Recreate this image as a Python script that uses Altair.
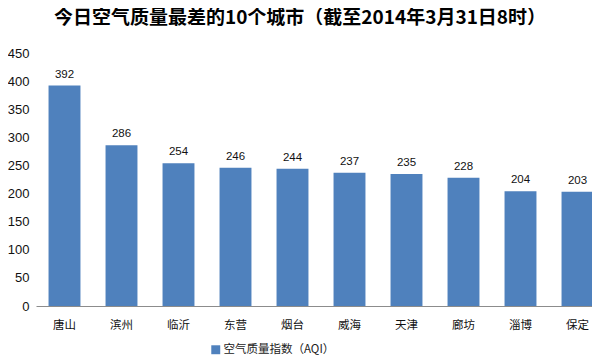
import altair as alt
import pandas as pd

cities = ["唐山", "滨州", "临沂", "东营", "烟台", "威海", "天津", "廊坊", "淄博", "保定"]
aqi = [392, 286, 254, 246, 244, 237, 235, 228, 204, 203]
series_name = "空气质量指数（AQI）"
y_ticks = [0, 50, 100, 150, 200, 250, 300, 350, 400, 450]

df = pd.DataFrame({"city": cities, "aqi": aqi, "series": [series_name] * len(cities)})

FONT = "Noto Sans CJK SC"

base = alt.Chart(df).encode(
    x=alt.X("city:N", sort=cities, title=None,
            scale=alt.Scale(range=[0, 570], paddingInner=0.44, paddingOuter=0.22),
            axis=alt.Axis(labelAngle=0, ticks=False, domainColor="#8c8c8c",
                          labelFont=FONT, labelFontSize=11.5, labelColor="#111",
                          labelPadding=13)),
    y=alt.Y("aqi:Q", title=None,
            scale=alt.Scale(domain=[0, 450], nice=False),
            axis=alt.Axis(values=y_ticks, domain=False, ticks=False, grid=False,
                          labelFont="Liberation Sans", labelFontSize=13,
                          labelColor="#111", labelPadding=7)),
)

bars = base.mark_bar(color="#4F81BD").encode(
    color=alt.Color("series:N", title=None,
                    scale=alt.Scale(domain=[series_name], range=["#4F81BD"]),
                    legend=alt.Legend(orient="none", legendX=174, legendY=291,
                                      symbolType="square", symbolSize=80,
                                      symbolStrokeWidth=0, padding=0,
                                      labelFont=FONT, labelFontSize=11.5,
                                      labelColor="#222", labelOffset=2))
)

labels = base.mark_text(baseline="bottom", dy=-6, font="Liberation Sans",
                        fontSize=11.5, color="#111").encode(text="aqi:Q")

chart = (bars + labels).properties(
    width=556,
    height=253,
    autosize=alt.AutoSizeParams(type="none"),
    padding={"left": 28, "top": 45, "right": 0, "bottom": 51},
    title=alt.TitleParams(
        "今日空气质量最差的10个城市（截至2014年3月31日8时）",
        font=FONT, fontSize=19, fontWeight="bold", color="#000",
        anchor="middle", dx=-14, offset=19,
    ),
).configure_view(stroke=None).configure_legend(orient="none")

chart.save("out.html", embed_options={"renderer": "svg", "actions": False})
